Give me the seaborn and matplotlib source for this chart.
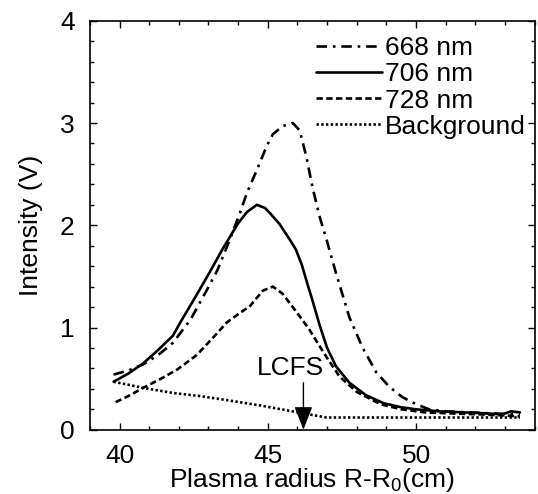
import seaborn as sns
import matplotlib.pyplot as plt
import matplotlib.ticker as mticker
import pandas as pd

# --- data ---
x_668 = [39.8, 40.3, 40.8, 41.3, 41.8, 42.4, 42.95, 43.3, 43.72, 44.06, 44.3, 44.63,
         44.97, 45.17, 45.5, 45.84, 46.07, 46.3, 46.5, 46.75, 46.98, 47.3, 47.75,
         48.2, 48.66, 49.1, 49.53, 50.0, 50.44, 51.0, 51.8, 52.6, 53.5]
y_668 = [0.54, 0.58, 0.64, 0.73, 0.85, 1.08, 1.37, 1.56, 1.86, 2.12, 2.32, 2.54,
         2.78, 2.89, 2.97, 3.00, 2.93, 2.67, 2.38, 2.08, 1.86, 1.53, 1.10,
         0.80, 0.56, 0.42, 0.32, 0.25, 0.20, 0.18, 0.17, 0.16, 0.15]

x_706 = [39.8, 40.3, 40.8, 41.3, 41.8, 42.05, 42.5, 43.0, 43.5, 44.0, 44.3, 44.63,
         44.9, 45.1, 45.4, 45.74, 45.95, 46.15, 46.3, 46.5, 46.75, 47.0, 47.3, 47.75,
         48.3, 48.9, 49.5, 50.0, 50.8, 51.6, 52.4, 52.9, 53.2, 53.5]
y_706 = [0.47, 0.55, 0.65, 0.78, 0.92, 1.05, 1.27, 1.52, 1.78, 2.02, 2.13, 2.20,
         2.17, 2.11, 2.01, 1.86, 1.76, 1.61, 1.46, 1.27, 1.02, 0.80, 0.62, 0.46,
         0.34, 0.26, 0.22, 0.20, 0.18, 0.17, 0.16, 0.15, 0.18, 0.17]

x_728 = [39.87, 40.3, 40.8, 41.4, 41.95, 42.6, 43.15, 43.62, 44.0, 44.4, 44.83, 45.17,
         45.5, 45.84, 46.1, 46.4, 46.7, 46.98, 47.42, 48.0, 48.8, 49.5, 50.3,
         51.2, 52.2, 53.0, 53.5]
y_728 = [0.27, 0.33, 0.41, 0.50, 0.59, 0.73, 0.90, 1.05, 1.13, 1.21, 1.36, 1.40,
         1.33, 1.20, 1.10, 0.98, 0.84, 0.71, 0.52, 0.37, 0.25, 0.20, 0.17,
         0.16, 0.15, 0.14, 0.13]

x_bg = [39.8, 40.8, 41.8, 42.7, 43.62, 44.7, 45.84, 46.4, 46.98, 48.0, 50.0, 52.0, 53.5]
y_bg = [0.47, 0.41, 0.36, 0.33, 0.29, 0.24, 0.18, 0.15, 0.12, 0.12, 0.12, 0.12, 0.12]

labels = ["668 nm", "706 nm", "728 nm", "Background"]
lcfs_x = 46.2

sns.set_theme(style="ticks")
plt.rcParams["font.family"] = ["Liberation Sans", "DejaVu Sans"]
plt.rcParams["mathtext.fontset"] = "custom"
plt.rcParams["mathtext.rm"] = "Liberation Sans"
for key in ["text.color", "axes.labelcolor", "xtick.color", "ytick.color"]:
    plt.rcParams[key] = "black"

fig = plt.figure(figsize=(5.38, 4.94), dpi=100)
ax = fig.add_axes([0.167, 0.130, 0.827, 0.828])

styles = [(0, (4, 2.2, 1, 2.2)), "solid", (0, (2.4, 1.3)), (0, (0.9, 0.9))]
series = [(x_668, y_668), (x_706, y_706), (x_728, y_728), (x_bg, y_bg)]
for (xs, ys), lab, ls in zip(series, labels, styles):
    df = pd.DataFrame({"r": xs, "I": ys})
    sns.lineplot(data=df, x="r", y="I", ax=ax, color="black", lw=1.9,
                 linestyle=ls, label=lab, sort=False)

# LCFS marker
ax.text(45.75, 0.49, "LCFS", ha="center", va="bottom", fontsize=19)
ax.annotate("", xy=(lcfs_x, 0.0), xytext=(lcfs_x, 0.46),
            arrowprops=dict(arrowstyle="-|>,head_length=0.9,head_width=0.35",
                            color="black", lw=1.0, mutation_scale=16,
                            shrinkA=0, shrinkB=0))

ax.set_xlim(39, 54)
ax.set_ylim(0, 4)
ax.xaxis.set_major_locator(mticker.MultipleLocator(5))
ax.xaxis.set_minor_locator(mticker.MultipleLocator(1))
ax.yaxis.set_major_locator(mticker.MultipleLocator(1))
ax.yaxis.set_minor_locator(mticker.MultipleLocator(0.2))
ax.tick_params(which="both", direction="in", top=True, right=True,
               labelsize=19, color="black", labelcolor="black", width=1)
ax.tick_params(axis="x", which="major", length=5, pad=10)
ax.tick_params(axis="y", which="major", length=5, pad=11)
ax.tick_params(which="minor", length=3)
for s in ax.spines.values():
    s.set_linewidth(1.2)
    s.set_color("black")

ax.set_xlabel(r"Plasma radius R-R$_\mathregular{0}$(cm)", fontsize=19, labelpad=-1)
ax.set_ylabel("Intensity (V)", fontsize=19, labelpad=12)

ax.legend(loc="upper right", bbox_to_anchor=(0.98, 0.962), frameon=False,
          fontsize=19, handlelength=2.5, handletextpad=0.12,
          labelspacing=0.08, borderpad=0, borderaxespad=0)

fig.savefig("out.png", dpi=100)
